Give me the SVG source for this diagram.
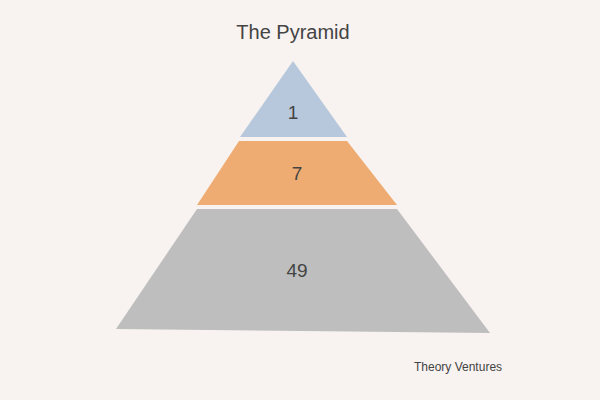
<svg xmlns="http://www.w3.org/2000/svg" width="600" height="400" viewBox="0 0 600 400">
<style>
text{font-family:"Helvetica Neue","Liberation Sans",Arial,sans-serif;fill:#444;}
.lbl{font-size:19px;text-anchor:middle;}
</style>
<rect width="600" height="400" fill="#f8f3f0"/>
<text x="293" y="39" font-size="20" text-anchor="middle">The Pyramid</text>
<g id="tier1"><polygon points="293,61 347,137 240,137" fill="#b8c8dc"/><text class="lbl" x="293" y="119">1</text></g>
<g id="tier2"><polygon points="239,141 347,141 397,205 197,205" fill="#efac72"/><text class="lbl" x="297" y="180">7</text></g>
<g id="tier3"><polygon points="197,209 397,209 490,333 116,329" fill="#bebebe"/><text class="lbl" x="297" y="277">49</text></g>
<text x="414" y="371" font-size="12">Theory Ventures</text>
</svg>
